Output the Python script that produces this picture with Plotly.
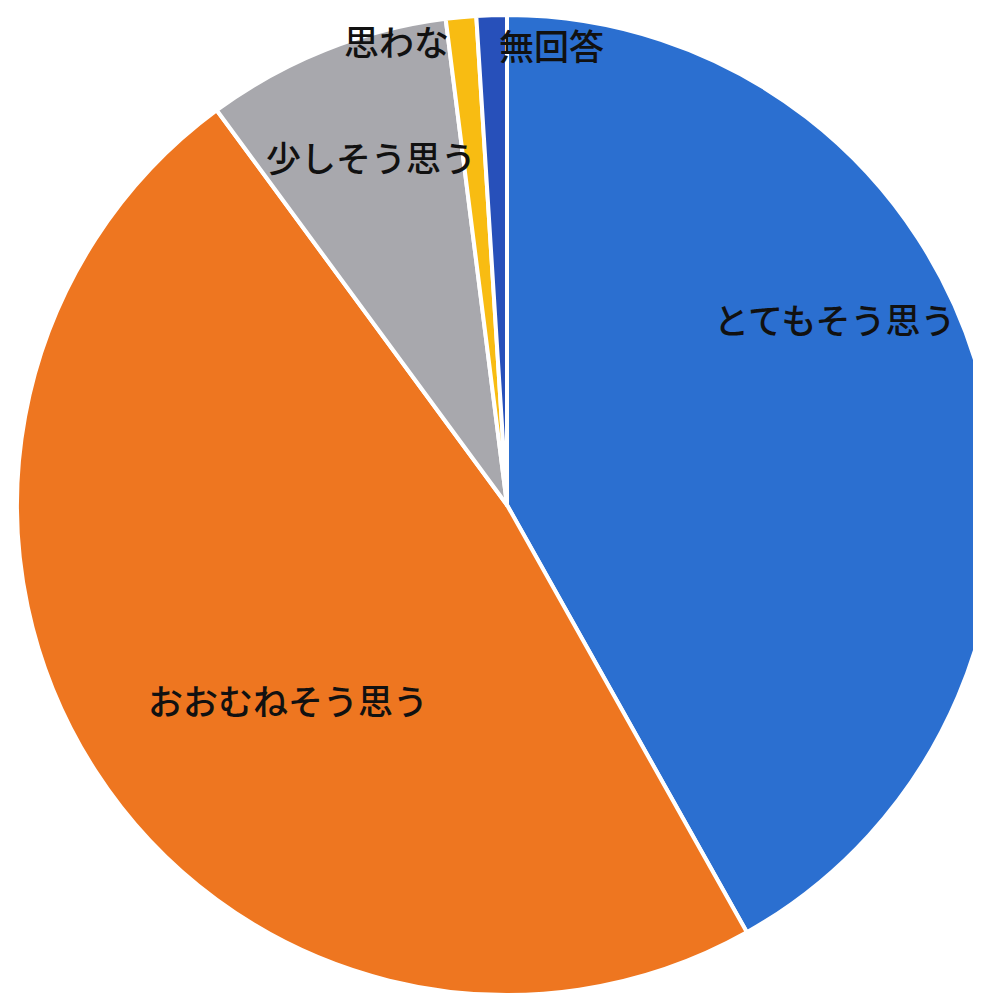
import plotly.graph_objects as go

labels = ["とてもそう思う", "おおむねそう思う", "少しそう思う", "思わない", "無回答"]
values = [41.9, 48.1, 8.1, 1.0, 1.0]
colors = ["#2B6FD0", "#EE7620", "#A8A8AD", "#F8BC12", "#2750BA"]

label_text = ["とてもそう思う", "おおむねそう思う", "少しそう思う", "思わな", "無回答"]
label_px = [(835, 317), (288, 705), (371, 152), (396, 34), (551, 38)]

W, H = 998, 998
OFF = 8  # page body margin

fig = go.Figure(go.Pie(
    labels=labels,
    values=values,
    sort=False,
    direction="clockwise",
    rotation=0,
    marker=dict(colors=colors, line=dict(color="white", width=4)),
    textinfo="none",
    hoverinfo="label+percent",
    domain=dict(x=[0, 1], y=[0, 1]),
))

for t, (px, py) in zip(label_text, label_px):
    fig.add_annotation(
        x=(px - OFF) / W, y=1 - (py - OFF) / H, xref="paper", yref="paper",
        text=t, showarrow=False,
        font=dict(family="Noto Sans CJK JP", size=35, color="#111111", weight=500),
        xanchor="center", yanchor="middle",
    )

fig.update_layout(
    width=W, height=H,
    margin=dict(l=0, r=0, t=7, b=11),
    paper_bgcolor="white",
    plot_bgcolor="white",
    showlegend=False,
)

fig.write_html("out.html")
